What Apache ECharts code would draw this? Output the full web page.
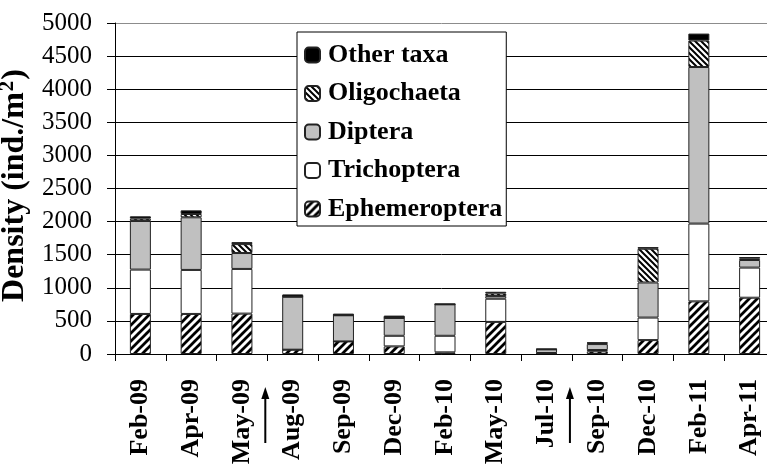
<!DOCTYPE html>
<html>
<head>
<meta charset="utf-8">
<script src="https://cdn.jsdelivr.net/npm/echarts@6/dist/echarts.min.js"></script>
<style>
html,body{margin:0;padding:0;background:#fff;}
#chart{width:767px;height:465px;}
.prime{position:absolute;left:-9999px;top:0;font-family:"Liberation Serif",serif;}
</style>
</head>
<body>
<span class="prime" style="font-weight:bold;">Density Feb-09</span><span class="prime">5000</span>
<div id="chart"></div>
<script>
const categories = ['Feb-09','Apr-09','May-09','Aug-09','Sep-09','Dec-09','Feb-10','May-10','Jul-10','Sep-10','Dec-10','Feb-11','Apr-11'];
const ephemeroptera = [605, 605, 610, 65, 190, 115, 25, 485, 10, 40, 210, 795, 850];
const trichoptera   = [670, 665, 675, 0, 0, 160, 250, 350, 5, 20, 340, 1175, 455];
const diptera       = [735, 795, 240, 800, 395, 270, 475, 40, 55, 90, 530, 2365, 115];
const oligochaeta   = [35, 50, 135, 0, 0, 0, 0, 40, 0, 15, 510, 400, 20];
const otherTaxa     = [35, 55, 30, 35, 25, 35, 10, 25, 10, 10, 25, 105, 25];
const seriesNames = ['Ephemeroptera','Trichoptera','Diptera','Oligochaeta','Other taxa'];
const legendOrder = ['Other taxa','Oligochaeta','Diptera','Trichoptera','Ephemeroptera'];
const yTicks = {min: 0, max: 5000, interval: 500};
const arrowAfter = ['May-09','Jul-10'];

function hatch(size, lw, dir) {
  const c = document.createElement('canvas');
  c.width = c.height = size;
  const g = c.getContext('2d');
  g.fillStyle = '#fff';
  g.fillRect(0, 0, size, size);
  g.strokeStyle = '#000';
  g.lineWidth = lw;
  g.beginPath();
  if (dir > 0) {
    g.moveTo(0, size); g.lineTo(size, 0);
    g.moveTo(-size/2, size/2); g.lineTo(size/2, -size/2);
    g.moveTo(size/2, size*1.5); g.lineTo(size*1.5, size/2);
  } else {
    g.moveTo(0, 0); g.lineTo(size, size);
    g.moveTo(-size/2, size/2); g.lineTo(size/2, size*1.5);
    g.moveTo(size/2, -size/2); g.lineTo(size*1.5, size/2);
  }
  g.stroke();
  return c;
}

const FONT = '"Liberation Serif", "Times New Roman", Times, serif';

function build() {
  const fills = [
    {image: hatch(8, 2.8, 1), repeat: 'repeat'},
    '#ffffff',
    '#c0c0c0',
    {image: hatch(6, 2, -1), repeat: 'repeat'},
    '#000000'
  ];
  const dataSets = [ephemeroptera, trichoptera, diptera, oligochaeta, otherTaxa];
  const chart = echarts.init(document.getElementById('chart'), null, {renderer: 'canvas'});
  const gridColors = [];
  for (let i = 0; i <= 10; i++) gridColors.push(i === 10 ? '#8c8c8c' : '#000');

  chart.setOption({
    animation: false,
    backgroundColor: '#fff',
    textStyle: {fontFamily: FONT},
    grid: {left: 115, right: -8, top: 23, bottom: 111, containLabel: false, outerBoundsMode: 'none'},
    legend: {
      orient: 'vertical',
      left: 297, top: 32,
      data: legendOrder,
      padding: [10, 4, 4, 7],
      itemGap: 12.5,
      itemWidth: 15, itemHeight: 15,
      backgroundColor: '#fff',
      borderColor: '#000', borderWidth: 1, borderRadius: 0,
      textStyle: {fontFamily: FONT, fontWeight: 'bold', fontSize: 26, color: '#000', padding: [0,0,0,3]}
    },
    xAxis: {
      type: 'category',
      data: categories,
      boundaryGap: true,
      axisLine: {lineStyle: {color: '#000', width: 1}},
      axisTick: {show: true, length: 7, lineStyle: {color: '#000'}},
      axisLabel: {rotate: 90, interval: 0, margin: 25, fontFamily: FONT, fontWeight: 'bold', fontSize: 26, color: '#000'}
    },
    yAxis: {
      type: 'value',
      min: yTicks.min, max: yTicks.max, interval: yTicks.interval,
      name: '{a|Density (ind./m}{s|2}{a|)}',
      nameLocation: 'middle',
      nameGap: 57,
      nameRotate: 90,
      nameTextStyle: {
        fontFamily: FONT, fontWeight: 'bold', fontSize: 32, color: '#000',
        padding: [0, 0, 0, 6],
        rich: {
          a: {fontFamily: FONT, fontWeight: 'bold', fontSize: 32, color: '#000', lineHeight: 36},
          s: {fontFamily: FONT, fontWeight: 'bold', fontSize: 21, color: '#000', verticalAlign: 'top', lineHeight: 36, padding: [0, 1, 0, 1]}
        }
      },
      axisLine: {show: true, lineStyle: {color: '#000', width: 1}},
      axisTick: {show: true, length: 8, lineStyle: {color: '#000'}},
      axisLabel: {margin: 23, fontFamily: FONT, fontSize: 25, color: '#000', formatter: v => String(v)},
      splitLine: {show: true, lineStyle: {color: gridColors, width: 1}}
    },
    series: seriesNames.map((n, i) => ({
      name: n,
      type: 'bar',
      stack: 'total',
      barWidth: 21,
      data: dataSets[i],
      itemStyle: {color: fills[i], borderColor: '#222', borderWidth: 1}
    }))
  });

  const y0 = chart.convertToPixel({yAxisIndex: 0}, 0);
  const els = [];
  arrowAfter.forEach(cat => {
    const idx = categories.indexOf(cat);
    const x = (chart.convertToPixel({xAxisIndex: 0}, categories[idx]) + chart.convertToPixel({xAxisIndex: 0}, categories[idx + 1])) / 2 - 2;
    els.push({type: 'line', shape: {x1: x, y1: y0 + 42, x2: x, y2: y0 + 89}, style: {stroke: '#000', lineWidth: 2}});
    els.push({type: 'polygon', shape: {points: [[x - 4, y0 + 45], [x + 4, y0 + 45], [x, y0 + 33]]}, style: {fill: '#000'}});
  });
  chart.setOption({graphic: els});
}

Promise.all([
  document.fonts.load('bold 26px "Liberation Serif"'),
  document.fonts.load('26px "Liberation Serif"')
]).then(build, build);
</script>
</body>
</html>
